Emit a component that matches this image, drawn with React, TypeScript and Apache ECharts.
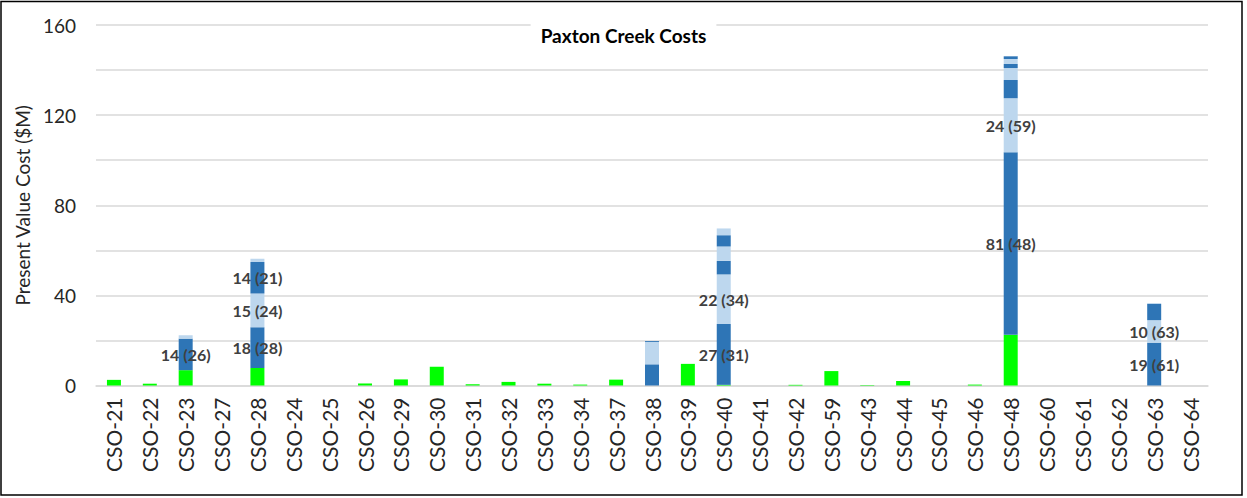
import React, { useEffect, useRef } from "react";
import * as echarts from "echarts";

const categories = [
  "CSO-21", "CSO-22", "CSO-23", "CSO-27", "CSO-28", "CSO-24", "CSO-25", "CSO-26",
  "CSO-29", "CSO-30", "CSO-31", "CSO-32", "CSO-33", "CSO-34", "CSO-37", "CSO-38",
  "CSO-39", "CSO-40", "CSO-41", "CSO-42", "CSO-59", "CSO-43", "CSO-44", "CSO-45",
  "CSO-46", "CSO-48", "CSO-60", "CSO-61", "CSO-62", "CSO-63", "CSO-64",
];

// bottom (green) layer
const greenValues = [
  2.5, 0.8, 6.8, 0, 7.8, 0, 0, 0.9, 2.7, 8.3, 0.6, 1.6, 0.8, 0.4, 2.6, 0,
  9.6, 0.3, 0, 0.3, 6.4, 0.2, 2.0, 0, 0.4, 22.5, 0, 0, 0, 0, 0,
];

// stacked project layers, per category name (alternating dark / light blue)
const layer1: Record<string, number> = { "CSO-23": 14, "CSO-28": 18, "CSO-38": 9.4, "CSO-40": 27, "CSO-48": 81, "CSO-63": 19 };
const layer2: Record<string, number> = { "CSO-23": 1.5, "CSO-28": 15, "CSO-38": 9.9, "CSO-40": 22, "CSO-48": 24, "CSO-63": 10 };
const layer3: Record<string, number> = { "CSO-28": 14, "CSO-38": 0.4, "CSO-40": 6, "CSO-48": 8.1, "CSO-63": 7.2 };
const layer4: Record<string, number> = { "CSO-28": 1.5, "CSO-40": 6.4, "CSO-48": 5.3, "CSO-63": 0.4 };
const layer5: Record<string, number> = { "CSO-40": 5, "CSO-48": 1.8 };
const layer6: Record<string, number> = { "CSO-40": 3, "CSO-48": 2.2 };
const layer7: Record<string, number> = { "CSO-48": 1.2 };

// labelled segments: [category, layer index (1-based), value, id]
const segmentLabels: [string, number, number, number][] = [
  ["CSO-23", 1, 14, 26],
  ["CSO-28", 1, 18, 28],
  ["CSO-28", 2, 15, 24],
  ["CSO-28", 3, 14, 21],
  ["CSO-40", 1, 27, 31],
  ["CSO-40", 2, 22, 34],
  ["CSO-48", 1, 81, 48],
  ["CSO-48", 2, 24, 59],
  ["CSO-63", 1, 19, 61],
  ["CSO-63", 2, 10, 63],
];

const yTicks = [0, 40, 80, 120, 160];

const DARK = "#2E75B6";
const LIGHT = "#BDD7EE";
const GREEN = "#00FF00";
const FONT = "Lato, 'Open Sans', sans-serif";

export default function App() {
  const ref = useRef<HTMLDivElement>(null);

  useEffect(() => {
    if (!ref.current) return;
    const chart = echarts.init(ref.current, undefined, { renderer: "svg" });

    const layers = [layer1, layer2, layer3, layer4, layer5, layer6, layer7];
    const layerSeries = layers.map((layer, li) => {
      const layerNo = li + 1;
      return {
        name: "Layer " + layerNo,
        type: "bar",
        stack: "total",
        barWidth: "39%",
        itemStyle: { color: li % 2 === 0 ? DARK : LIGHT },
        data: categories.map((c) => {
          const v = layer[c] ?? 0;
          const lab = segmentLabels.find((s) => s[0] === c && s[1] === layerNo);
          if (lab) {
            return {
              value: v,
              label: {
                show: true,
                position: "inside",
                formatter: `${lab[2]} (${lab[3]})`,
                color: "#404040",
                fontWeight: "bold",
                fontSize: 16,
                fontFamily: FONT,
              },
            };
          }
          return v;
        }),
      };
    });

    chart.setOption({
      animation: false,
      backgroundColor: "#ffffff",
      textStyle: { fontFamily: FONT },
      title: {
        text: "Paxton Creek Costs",
        left: "center",
        top: 21,
        padding: [5, 10, 5, 10],
        backgroundColor: "#ffffff",
        textStyle: { fontSize: 19, fontWeight: "bold", color: "#000", fontFamily: FONT },
      },
      grid: { left: 96, right: 39, top: 25, bottom: 112.5, containLabel: false },
      xAxis: {
        type: "category",
        data: categories,
        axisLine: { show: true, lineStyle: { color: "#D9D9D9", width: 1.5 } },
        axisTick: { show: false },
        axisLabel: { rotate: 90, margin: 12, fontSize: 21, color: "#262626", fontFamily: FONT },
      },
      yAxis: {
        type: "value",
        min: 0,
        max: 160,
        interval: 20,
        name: "Present Value Cost ($M)",
        nameLocation: "middle",
        nameGap: 64,
        nameTextStyle: { fontSize: 19, color: "#262626", fontFamily: FONT },
        axisLine: { show: false },
        axisTick: { show: false },
        splitLine: { lineStyle: { color: "#D9D9D9", width: 1.5 } },
        axisLabel: {
          margin: 20,
          fontSize: 19,
          color: "#262626",
          fontFamily: FONT,
          formatter: (v: number) => (yTicks.includes(v) ? String(v) : ""),
        },
      },
      graphic: [
        {
          type: "rect",
          shape: { x: 1, y: 1.5, width: 1241, height: 493.5 },
          style: { fill: "none", stroke: "#000", lineWidth: 1.5 },
          silent: true,
        },
      ],
      series: [
        {
          name: "Base",
          type: "bar",
          stack: "total",
          barWidth: "39%",
          itemStyle: { color: GREEN },
          data: greenValues,
        },
        ...layerSeries,
      ],
    });

    return () => chart.dispose();
  }, []);

  return (
    <div
      ref={ref}
      style={{ position: "fixed", left: 0, top: 0, width: 1247, height: 498, background: "#fff" }}
    />
  );
}
